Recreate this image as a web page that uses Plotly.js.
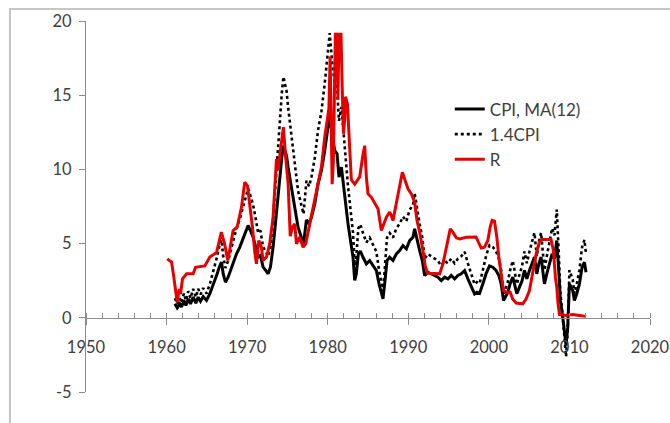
<!DOCTYPE html>
<html>
<head>
<meta charset="utf-8">
<script src="https://cdn.plot.ly/plotly-3.0.1.min.js"></script>
<style>html,body{margin:0;padding:0;background:#fff;}#chart{width:670px;height:423px;}</style>
</head>
<body>
<div id="chart"></div>
<script>
const seriesNames = ["CPI, MA(12)", "1.4CPI", "R"];
const xTickValues = [1950, 1960, 1970, 1980, 1990, 2000, 2010, 2020];
const yTickValues = [-5, 0, 5, 10, 15, 20];

const cpiYears = [1961.03,1961.32,1961.65,1961.86,1962.15,1962.4,1962.7,1962.97,1963.3,1963.63,1963.92,1964.21,1964.54,1964.96,1965.37,1965.7,1966.0,1966.28,1966.53,1966.82,1967.03,1967.31,1967.64,1967.93,1968.26,1968.68,1969.09,1969.5,1969.83,1970.12,1970.41,1970.74,1971.07,1971.36,1971.65,1971.98,1972.31,1972.6,1972.89,1973.22,1973.55,1973.84,1974.1,1974.3,1974.5,1974.7,1974.9,1975.08,1975.5,1975.91,1976.32,1976.74,1977.0,1977.36,1977.69,1977.98,1978.39,1978.8,1979.22,1979.63,1980.04,1980.25,1980.58,1980.87,1981.16,1981.4,1981.7,1981.98,1982.23,1982.52,1982.73,1982.93,1983.14,1983.35,1983.55,1983.8,1984.05,1984.38,1984.8,1985.21,1985.62,1986.04,1986.37,1986.57,1986.86,1987.07,1987.36,1987.69,1988.1,1988.52,1988.93,1989.34,1989.76,1990.17,1990.58,1990.79,1991.08,1991.41,1991.74,1992.03,1992.44,1992.85,1993.27,1993.68,1994.09,1994.51,1994.92,1995.33,1995.75,1996.16,1996.57,1996.99,1997.4,1997.81,1998.23,1998.52,1998.85,1999.26,1999.67,2000.08,2000.49,2000.9,2001.24,2001.53,2001.82,2002.06,2002.35,2002.64,2002.97,2003.18,2003.47,2003.8,2004.13,2004.42,2004.71,2005.04,2005.37,2005.66,2005.95,2006.2,2006.48,2006.69,2006.9,2007.19,2007.52,2007.85,2008.14,2008.43,2008.67,2008.88,2009.17,2009.42,2009.58,2009.79,2010.0,2010.2,2010.41,2010.62,2010.91,2011.24,2011.57,2011.86,2012.06];

const cpiValues = [0.94,0.67,0.94,0.72,1.17,0.83,1.28,0.94,1.39,0.99,1.39,1.12,1.43,1.17,1.62,2.07,2.52,2.96,3.41,3.75,2.96,2.4,2.74,3.19,3.75,4.31,4.76,5.32,5.77,6.22,5.88,5.43,4.76,4.09,4.2,3.41,3.19,2.96,3.41,4.76,6.56,8.35,9.7,10.8,11.6,11.2,10.9,10.15,8.8,7.68,6.11,5.4,5.0,6.6,6.33,6.78,7.68,9.03,9.93,11.28,13.07,13.7,12.17,11.28,11.05,9.48,10.15,9.03,7.68,6.33,5.44,4.99,4.09,2.52,2.97,4.3,4.5,4.08,3.63,3.86,3.52,3.18,2.29,1.84,1.28,2.29,3.86,4.08,3.86,4.31,4.53,4.87,4.64,5.2,5.43,5.99,5.2,4.53,3.86,2.85,3.07,2.96,2.85,2.74,2.51,2.74,2.62,2.85,2.62,2.85,2.96,3.18,2.62,2.06,1.61,1.72,1.65,2.3,3.0,3.5,3.41,3.19,2.85,2.29,1.17,1.39,1.73,2.29,2.74,2.29,1.62,2.07,2.51,3.19,2.63,3.19,3.64,4.09,2.96,3.64,4.09,3.19,2.29,2.96,3.64,4.31,3.97,5.21,3.19,1.17,0.04,-1.08,-1.87,-0.63,2.29,2.07,1.84,1.17,1.62,2.29,3.41,3.75,3.07];

const cpi14Values = [1.32,0.94,1.32,1.01,1.64,1.16,1.79,1.32,1.95,1.39,1.95,1.57,2.0,1.64,2.27,2.9,3.53,4.14,4.77,5.25,4.14,3.36,3.84,4.47,5.25,6.03,6.66,7.45,8.08,8.71,8.23,7.6,6.66,5.73,5.88,4.77,4.47,4.14,4.77,6.66,9.18,11.69,13.58,15.12,16.24,15.68,15.26,14.21,12.32,10.75,8.55,7.56,7.0,9.24,8.86,9.49,10.75,12.64,13.9,15.79,18.3,19.18,17.04,15.79,15.47,13.27,14.21,12.64,10.75,8.86,7.62,6.99,5.73,3.53,4.16,6.02,6.3,5.71,5.08,5.4,4.93,4.45,3.21,2.58,1.79,3.21,5.4,5.71,5.4,6.03,6.34,6.82,6.5,7.28,7.6,8.39,7.28,6.34,5.4,3.99,4.3,4.14,3.99,3.84,3.51,3.84,3.67,3.99,3.67,3.99,4.14,4.45,3.67,2.88,2.25,2.41,2.31,3.22,4.2,4.9,4.77,4.47,3.99,3.21,1.64,1.95,2.42,3.21,3.84,3.21,2.27,2.9,3.51,4.47,3.68,4.47,5.1,5.73,4.14,5.1,5.73,4.47,3.21,4.14,5.1,6.03,5.56,7.29,4.47,1.64,0.06,-1.51,-2.62,-0.88,3.21,2.9,2.58,1.64,2.27,3.21,4.77,5.25,4.3];

const rYears = [1960.08,1960.62,1960.9,1961.15,1961.32,1961.57,1961.73,1961.98,1962.48,1963.3,1963.6,1964.75,1965.37,1966.2,1966.8,1967.2,1967.6,1968.26,1968.76,1969.3,1969.7,1970.04,1970.33,1970.66,1970.95,1971.15,1971.45,1971.77,1971.98,1972.4,1972.8,1973.22,1973.64,1973.84,1974.13,1974.5,1974.75,1975.08,1975.35,1975.62,1975.91,1976.12,1976.53,1976.94,1977.27,1977.77,1978.18,1978.8,1979.22,1979.63,1980.04,1980.15,1980.3,1980.4,1980.55,1980.7,1980.85,1980.95,1981.15,1981.27,1981.4,1981.65,1981.8,1981.95,1982.1,1982.2,1982.45,1982.73,1982.93,1983.35,1983.97,1984.38,1984.59,1984.8,1985.0,1985.42,1985.83,1986.24,1986.66,1986.95,1987.28,1987.69,1987.9,1988.1,1988.52,1988.93,1989.26,1989.55,1989.96,1990.38,1990.79,1991.08,1991.41,1991.82,1992.1,1992.4,1993.89,1994.3,1994.63,1994.92,1995.21,1995.54,1995.95,1996.37,1997.19,1998.4,1998.75,1999.05,1999.46,1999.87,2000.16,2000.41,2000.7,2000.99,2001.24,2001.53,2001.8,2002.15,2002.64,2002.97,2003.39,2004.21,2004.63,2005.04,2005.45,2005.87,2006.28,2006.61,2007.72,2008.01,2008.26,2008.43,2008.59,2008.76,2009.58,2010.41,2011.24,2012.06];

const rValues = [3.97,3.75,2.74,1.84,1.05,1.95,1.6,2.63,2.96,2.96,3.4,3.5,4.1,4.4,5.77,4.98,3.86,5.88,6.1,7.46,9.14,8.9,7.68,6.1,4.42,3.64,5.21,4.76,3.86,4.09,4.98,6.78,10.7,9.93,11.27,12.85,11.0,9.1,5.5,6.11,6.33,4.99,5.44,4.76,4.99,6.33,7.23,9.03,10.15,12.17,13.97,14.1,17.6,13.0,9.0,10.5,16.0,19.1,19.1,14.7,19.1,19.1,15.5,12.4,13.3,14.9,14.4,11.7,9.3,9.0,9.5,11.0,11.6,9.47,8.35,8.12,7.68,7.34,5.88,6.33,6.78,7.12,6.89,6.55,7.68,8.8,9.81,9.36,8.69,8.35,7.79,6.55,5.77,4.53,3.5,3.0,2.96,3.63,4.53,5.43,5.99,5.77,5.39,5.32,5.43,5.45,5.0,4.7,4.76,5.21,6.11,6.56,6.51,5.43,4.09,2.74,1.84,1.73,1.73,1.25,0.99,0.94,1.28,1.84,2.96,4.31,5.1,5.28,5.28,4.54,2.74,2.06,0.94,0.22,0.16,0.22,0.16,0.09];

const fontFamily = "Lato, 'Open Sans', sans-serif";
const textColor = "#404040";
const axisColor = "#8c8c8c";

// main y axis: [-5, 20] over full height; y2 covers [0, 20] over the upper 80%,
// so the x axis anchored to y2 sits exactly on the value 0.
const traces = [
  {x: cpiYears, y: cpiValues, name: seriesNames[0], type: "scatter", mode: "lines",
   xaxis: "x", yaxis: "y", line: {color: "#000000", width: 3}},
  {x: cpiYears, y: cpi14Values, name: seriesNames[1], type: "scatter", mode: "lines",
   xaxis: "x", yaxis: "y", line: {color: "#000000", width: 2.6, dash: "dot"}},
  {x: rYears, y: rValues, name: seriesNames[2], type: "scatter", mode: "lines",
   xaxis: "x2", yaxis: "y2", line: {color: "#e60000", width: 3}}
];

const layout = {
  width: 670, height: 423,
  margin: {l: 86, r: 20, t: 21, b: 31, pad: 0},
  paper_bgcolor: "#ffffff", plot_bgcolor: "rgba(0,0,0,0)",
  font: {family: fontFamily, size: 16, color: textColor},
  showlegend: true,
  legend: {x: 0.645, y: 0.81, xanchor: "left", yanchor: "top",
           bgcolor: "rgba(0,0,0,0)", font: {family: fontFamily, size: 17, color: textColor},
           tracegroupgap: 0, itemwidth: 30},
  xaxis: {range: [1950, 2020], domain: [0, 1], anchor: "y", visible: false, fixedrange: true},
  yaxis: {range: [-5, 20], domain: [0, 1], anchor: "x",
          tickvals: yTickValues, ticktext: yTickValues.map(String),
          showline: true, linecolor: axisColor, linewidth: 1,
          ticks: "outside", ticklen: 6, tickcolor: axisColor, tickwidth: 1,
          ticklabelstandoff: 4,
          showgrid: false, zeroline: false, fixedrange: true,
          tickfont: {family: fontFamily, size: 16.5, color: textColor}},
  xaxis2: {range: [1950, 2020], domain: [0, 1], anchor: "y2",
          tickvals: xTickValues, ticktext: xTickValues.map(String),
          showline: true, linecolor: axisColor, linewidth: 1,
          ticks: "outside", ticklen: 6, tickcolor: axisColor, tickwidth: 1,
          ticklabelstandoff: 8,
          minor: {dtick: 2, tick0: 1950, ticks: "inside", ticklen: 5, tickcolor: axisColor, tickwidth: 1, showgrid: false},
          showgrid: false, zeroline: false, fixedrange: true,
          tickfont: {family: fontFamily, size: 16.5, color: textColor}},
  yaxis2: {range: [0, 20], domain: [0.2, 1], anchor: "x2", visible: false, fixedrange: true},
  shapes: [{type: "rect", xref: "paper", yref: "paper",
            x0: -0.1348, x1: 1.05, y0: -0.15, y1: 1.0323,
            line: {color: "#b4b4b4", width: 1.5}, fillcolor: "rgba(0,0,0,0)", layer: "below"}]
};

Plotly.newPlot("chart", traces, layout, {staticPlot: true, displayModeBar: false});
</script>
</body>
</html>
